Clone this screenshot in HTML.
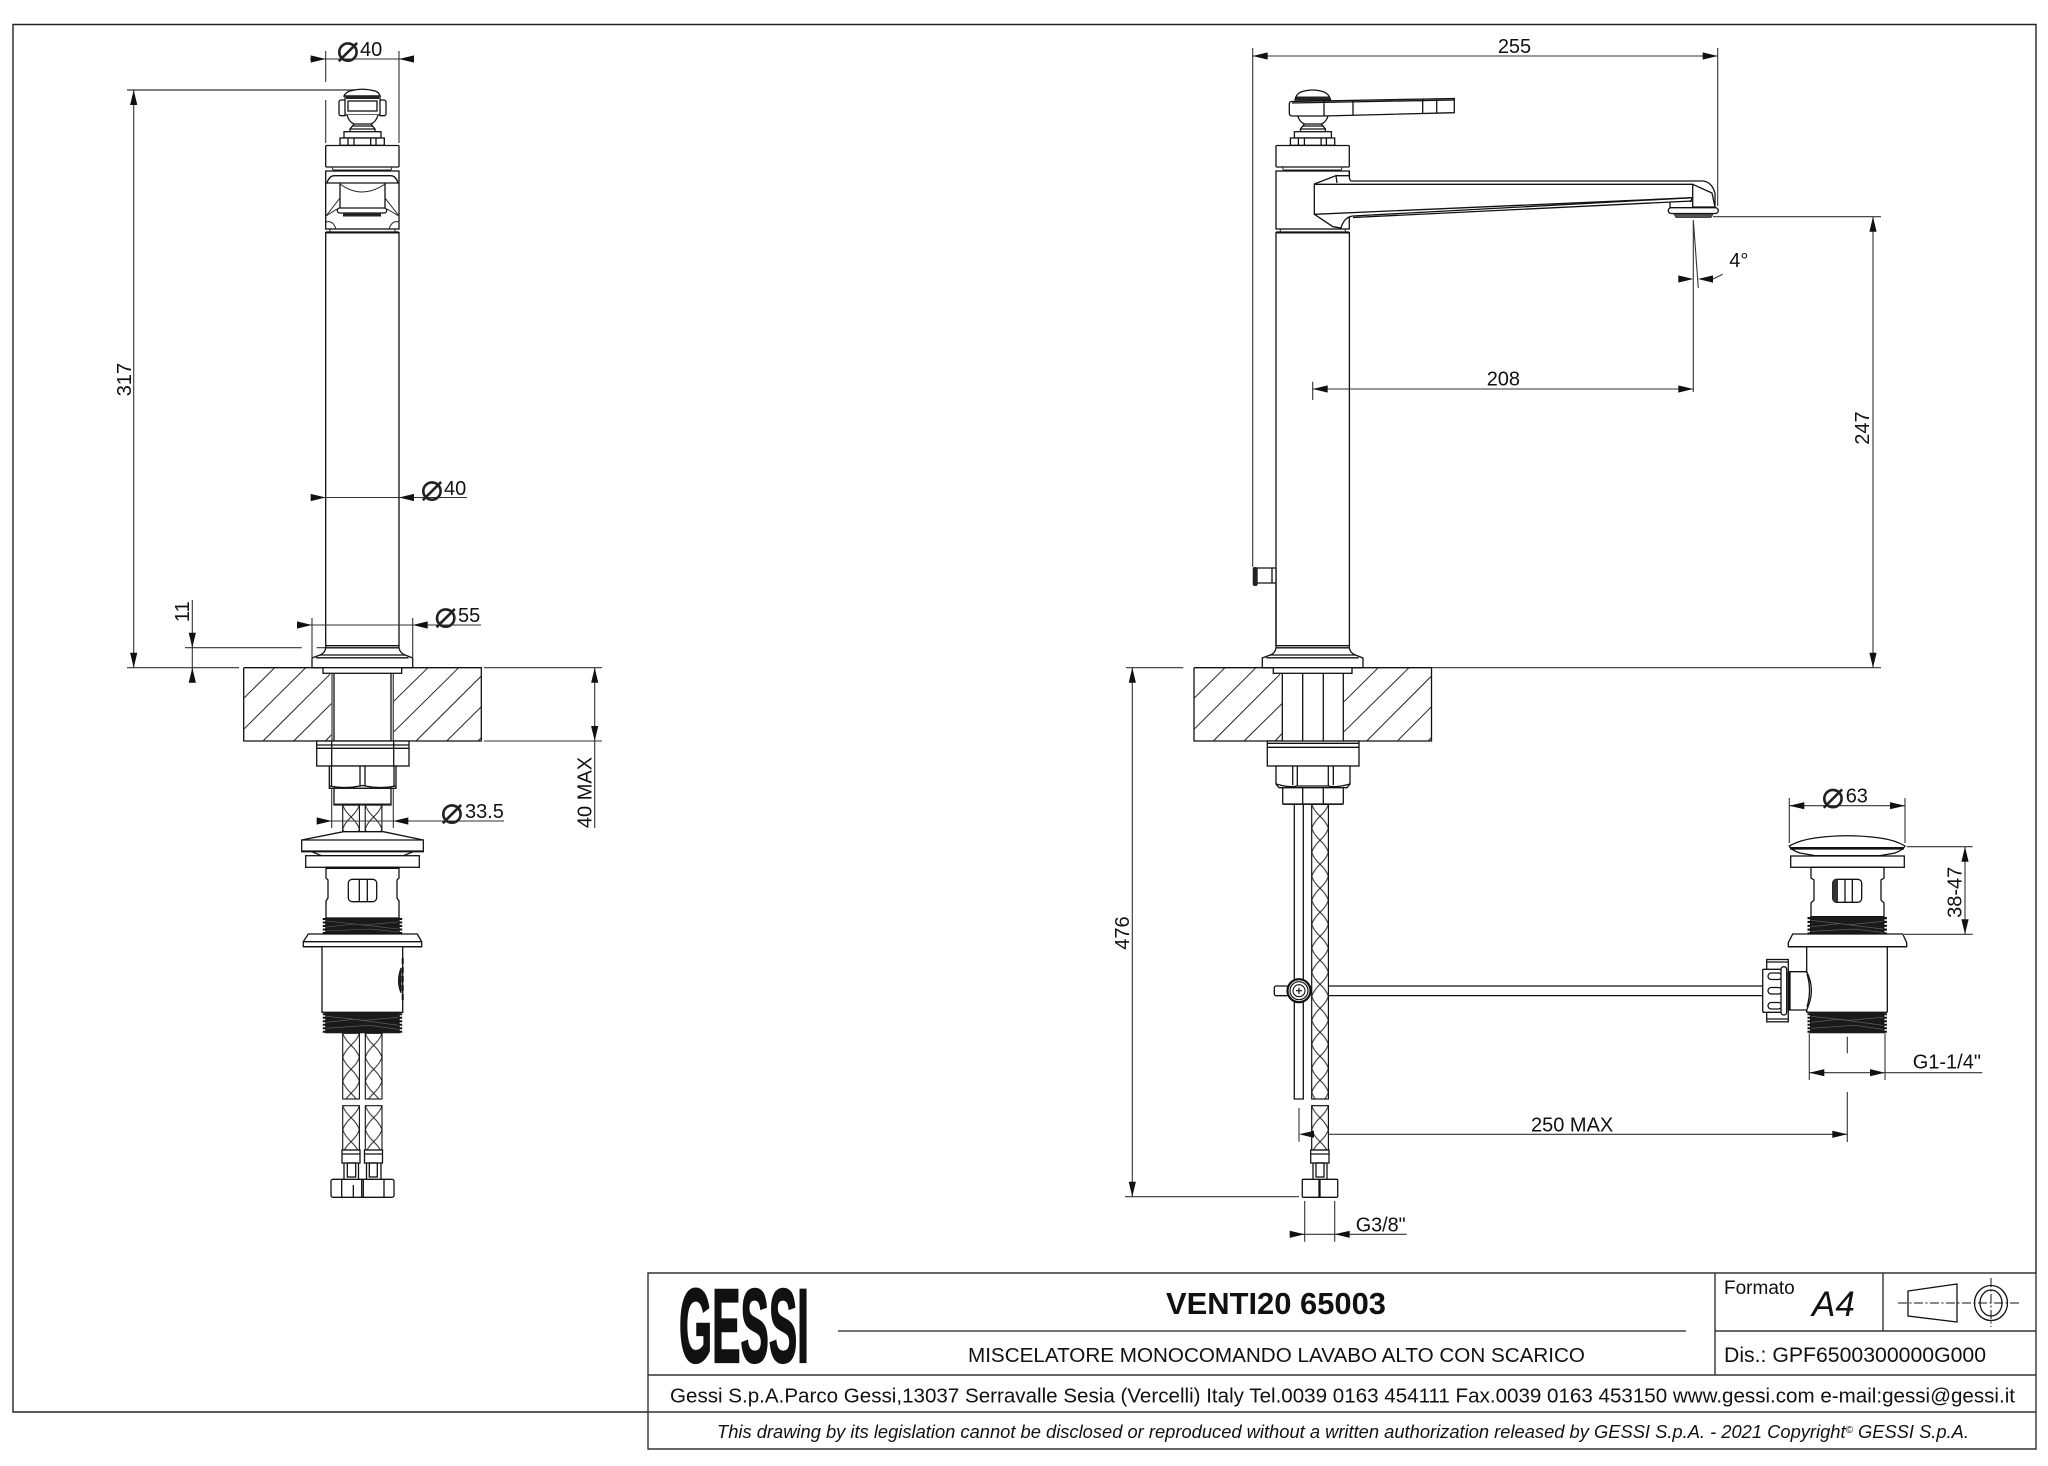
<!DOCTYPE html>
<html>
<head>
<meta charset="utf-8">
<style>
html,body{margin:0;padding:0;background:#fff;}
svg{display:block;}
text{font-family:"Liberation Sans",Arial,sans-serif;fill:#111;}
.t{font-size:20px;}
.phi{font-family:"DejaVu Sans",sans-serif;font-size:38px;fill:#222;text-anchor:middle;}
.o{fill:#fff;stroke:#111;stroke-width:1.3;}
.n{fill:none;stroke:#111;stroke-width:1.3;}
.f{fill:none;stroke:#222;stroke-width:1;}
.d{fill:none;stroke:#333;stroke-width:1.1;}
.k{fill:#1a1a1a;stroke:none;}
.tb{fill:none;stroke:#333;stroke-width:1.4;}
</style>
</head>
<body>
<svg xmlns="http://www.w3.org/2000/svg" width="2048" height="1466" viewBox="0 0 2048 1466">
<defs>
<path id="ar" d="M0,0 L15,-3.6 L15,3.6 Z" fill="#111"/>
<pattern id="b" patternUnits="userSpaceOnUse" width="16.7" height="24">
<path d="M0,0 Q2,6 8.35,12 Q14.7,18 16.7,24 M16.7,0 Q14.7,6 8.35,12 Q2,18 0,24" fill="none" stroke="#222" stroke-width="1"/>
</pattern>
<g id="knobbase">
<path class="o" d="M347,115 Q349,122 354,124 L371,124 Q376,122 378,115"/>
<path class="n" d="M354,124 L350,129 V131.7 M371,124 L375,129 V131.7 M352,126 H373 M350,129 H375"/>
<rect class="o" x="344" y="131.7" width="37" height="6.3"/>
<rect class="o" x="340" y="138" width="44.3" height="7.3"/>
<path class="n" d="M348,138 V145 M354,138 V145 M370.7,138 V145 M376,138 V145"/>
</g>
<g id="head">
<rect class="o" x="325.7" y="145.5" width="73.3" height="21.5" rx="1"/>
<path class="f" d="M332,167 L333,170 H391 L392,167"/>
<rect class="o" x="325.7" y="171" width="73.3" height="58"/>
<path class="f" d="M330,229 V232 H395 V229"/>
<path class="n" d="M325.7,232 H399 M325.7,232.8 H399"/>
</g>
<g id="base">
<path class="o" d="M325.7,645.7 H399 V648 Q400,653 405,655 L412.7,658 V667.7 H312 V658 L320,655 Q325,653 325.7,648 Z"/>
<path class="n" d="M325.7,647.8 H399 M316,657.8 H408.5 M320,655 H405"/>
<rect class="o" x="323" y="667.7" width="78.7" height="5.6"/>
</g>
<g id="th1">
<rect class="k" x="1" y="0" width="74.4" height="16"/>
<path d="M0,0 V16 M76.4,0 V16" stroke="#111" stroke-width="3" stroke-dasharray="2 1.5" fill="none"/>
<path d="M2,3 L40,7 L74,4 M2,9 L30,6 L74,11 M2,13 L45,11 L74,14" stroke="#666" stroke-width=".6" fill="none"/>
</g>
<g id="th2">
<rect class="k" x="1" y="0" width="74.4" height="21"/>
<path d="M0,1 V21 M76.4,1 V21" stroke="#111" stroke-width="3" stroke-dasharray="2 1.5" fill="none"/>
<path d="M2,4 L40,8 L74,5 M2,10 L30,7 L74,13 M2,16 L45,13 L74,17" stroke="#666" stroke-width=".6" fill="none"/>
</g>
</defs>

<rect width="2048" height="1466" fill="#fff"/>
<!-- frame -->
<path d="M648,1412 H13 V24.5 H2036 V1273" fill="none" stroke="#222" stroke-width="1.4"/>

<!-- =================== LEFT VIEW =================== -->
<!-- dim lines -->
<path class="d" d="M325.7,51 V82 M325.7,100 V143 M399,51 V143 M310,59 H414"/>
<use href="#ar" transform="translate(325.7,59) rotate(180)"/>
<use href="#ar" transform="translate(399,59)"/>
<text class="phi" x="348" y="61.5">⌀</text>
<text class="t" x="360" y="56">40</text>

<path d="M127,90 H357" stroke="#555" stroke-width="1.6" fill="none"/>
<path class="d" d="M133.7,90 V668 M127,667.7 H239"/>
<use href="#ar" transform="translate(133.7,90) rotate(90)"/>
<use href="#ar" transform="translate(133.7,667.7) rotate(-90)"/>
<text class="t" text-anchor="middle" transform="translate(131,379.5) rotate(-90)">317</text>

<!-- knob -->
<path class="o" d="M344,96 Q346,92 350,91 Q362,87.5 375,91 Q379,92 380,96 Z"/>
<rect class="o" x="339" y="100" width="7" height="15.7" rx="2"/>
<rect class="o" x="379" y="100" width="7" height="15.7" rx="2"/>
<rect class="o" x="345" y="96" width="35" height="19"/>
<rect x="346" y="96" width="33" height="3" fill="#222"/>
<rect class="n" x="348" y="101" width="29" height="10"/>
<use href="#knobbase"/>
<use href="#head"/>
<!-- head detail -->
<path class="n" d="M327,183 Q329,176 334,175.7 H391 Q396,176 398,183 Z"/>
<path class="n" d="M340,183 V208 M385,183 V208"/>
<path class="f" d="M340,184 Q362,200 385,184"/>
<rect class="o" x="337.3" y="208" width="49.4" height="5" rx="2.5"/>
<rect x="343" y="213" width="38" height="3.5" fill="#222"/>
<path class="f" d="M326,216 L340,198 M399,216 L385,198 M326,222 Q333,220 336,229 M399,222 Q392,220 389,229 M326,216 L337,209 M399,216 L387,209"/>
<!-- body -->
<path class="n" d="M325.7,232 V646 M399,232 V646"/>

<!-- Ø40 mid -->
<path class="d" d="M311,497.5 H467"/>
<use href="#ar" transform="translate(325.7,497.5) rotate(180)"/>
<use href="#ar" transform="translate(399,497.5)"/>
<text class="phi" x="432" y="500.5">⌀</text>
<text class="t" x="444" y="495">40</text>

<!-- Ø55 -->
<path class="d" d="M312,618 V657 M412.7,618 V657 M297,625 H481"/>
<use href="#ar" transform="translate(312,625) rotate(180)"/>
<use href="#ar" transform="translate(412.7,625)"/>
<text class="phi" x="445.7" y="627.5">⌀</text>
<text class="t" x="458" y="622">55</text>

<!-- 11 -->
<path class="d" d="M192.3,600 V682.7 M185,647.7 H301.7 M316.7,647.7 H325"/>
<use href="#ar" transform="translate(192.3,647.7) rotate(-90)"/>
<use href="#ar" transform="translate(192.3,667.7) rotate(90)"/>
<text class="t" text-anchor="middle" transform="translate(189,611.7) rotate(-90)">11</text>

<use href="#base"/>

<!-- counter left -->
<path class="n" d="M243.7,667.7 H323 M401.7,667.7 H481.3 V741 H243.7 V667.7" stroke-width="1.2"/>
<path class="f" d="M243.7,698.3 L274.7,667.7 M243.7,729.3 L305.7,667.7 M263,741 L330,674.3 M293.7,741 L332.3,702.7 M325.3,741 L332.3,734 M393.3,701.7 L428,667.7 M393.3,732.3 L458.7,667.7 M416,741 L481.3,676 M446.7,741 L481.3,706.7 M478,741 L481.3,737.7"/>
<path class="n" d="M334,674 V741 M391,674 V741"/>
<path d="M332,674 V741 M393.3,674 V741" stroke="#555" stroke-width="1.4" fill="none"/>

<!-- 40 MAX -->
<path class="d" d="M484,667.7 H602 M484,741 H602 M594.7,667.7 V828"/>
<use href="#ar" transform="translate(594.7,667.7) rotate(90)"/>
<use href="#ar" transform="translate(594.7,741) rotate(-90)"/>
<text class="t" text-anchor="middle" transform="translate(591.5,792.5) rotate(-90)">40 MAX</text>

<!-- nuts -->
<rect class="o" x="316.7" y="741" width="92.3" height="25"/>
<path class="n" d="M316.7,745 H409 M316.7,748.3 H409 M331.7,741 V766 M393.7,741 V766"/>
<path class="o" d="M329.3,766 H396 V788.3 H329.3 Z"/>
<path class="n" d="M331.5,766 V786 M394,766 V786 M360,766 V786 M365,766 V786 M329.3,786 Q345,789 360,786 Q363,785 365,786 Q380,789 396,786"/>
<rect class="o" x="334" y="788.3" width="57" height="16.7"/>
<path class="d" d="M331.7,788 V828 M393.3,788 V828"/>
<rect x="334" y="803.5" width="57" height="2" fill="#222"/>
<g transform="translate(342.7,805)"><rect width="16.7" height="26.7" fill="url(#b)" stroke="#111" stroke-width="1.1"/></g>
<g transform="translate(365.2,805)"><rect width="16.7" height="26.7" fill="url(#b)" stroke="#111" stroke-width="1.1"/></g>

<!-- Ø33.5 -->
<path class="d" d="M316.7,821 H504"/>
<use href="#ar" transform="translate(331.7,821) rotate(180)"/>
<use href="#ar" transform="translate(393.3,821)"/>
<text class="phi" x="452" y="823.5">⌀</text>
<text class="t" x="465" y="818">33.5</text>

<!-- pop-up front -->
<path class="o" d="M343.3,831.7 H383.3 L423.3,840 V851.7 H301.7 V840 Z"/>
<path class="n" d="M301.7,840 H423.3 M301.7,851 H423.3"/>
<path class="o" d="M311.7,851.7 L321.7,855.7 H403.3 L413.3,851.7 Z"/>
<rect class="o" x="305.7" y="855.7" width="113.6" height="11.6"/>
<path class="o" d="M326,867.3 H399 V878 L397,880 V898 L399,901 V918 H326 V901 L328,898 V880 L326,878 Z"/>
<path class="n" d="M326,868.3 H399"/>
<rect class="o" x="348.3" y="879.3" width="28.4" height="22.4" rx="4"/>
<path class="n" d="M359.3,879.3 V901.7 M367.3,879.3 V901.7"/>
<use href="#th1" transform="translate(324.3,918)"/>
<path class="o" d="M308.3,934 H417.3 L421.7,941.7 V946.7 H303.3 V941.7 Z"/>
<path class="n" d="M304,941.7 H421 M303.3,946.7 H421.7"/>
<rect class="o" x="322" y="946.7" width="80.7" height="65.6"/>
<path d="M402.7,958 V1003" stroke="#111" stroke-width="2" stroke-dasharray="6 3" fill="none"/>
<path d="M401,968 Q396,981 401,993 Z" fill="#222" stroke="#111"/>
<use href="#th2" transform="translate(324.3,1012.3)"/>
<!-- hoses -->
<g transform="translate(342.7,1033.3)"><rect width="16.7" height="65.7" fill="url(#b)" stroke="#111" stroke-width="1.1"/></g>
<g transform="translate(365.3,1033.3)"><rect width="16.7" height="65.7" fill="url(#b)" stroke="#111" stroke-width="1.1"/></g>
<g transform="translate(342.7,1105.7)"><rect width="16.7" height="44.3" fill="url(#b)" stroke="#111" stroke-width="1.1"/></g>
<g transform="translate(365.3,1105.7)"><rect width="16.7" height="44.3" fill="url(#b)" stroke="#111" stroke-width="1.1"/></g>
<rect class="o" x="342" y="1150" width="18" height="13"/>
<rect class="o" x="364.5" y="1150" width="18" height="13"/>
<path class="n" d="M342,1154 H360 M364.5,1154 H382.5 M344,1163 V1179.3 M358.5,1163 V1179.3 M366.5,1163 V1179.3 M381,1163 V1179.3"/>
<rect class="n" x="347.3" y="1163" width="8.4" height="14"/>
<rect class="n" x="369.3" y="1163" width="8" height="14"/>
<rect class="o" x="331" y="1179.3" width="63" height="18" rx="2"/>
<path class="n" d="M341.7,1179.3 V1197.3 M353.3,1185 V1197.3 M361.7,1179.3 V1197.3 M363.3,1179.3 V1197.3 M384,1179.3 V1197.3"/>

<!-- =================== RIGHT VIEW =================== -->
<path class="d" d="M1252.7,48 V567 M1717.7,48 V206 M1252.7,56 H1717.7"/>
<use href="#ar" transform="translate(1252.7,56)"/>
<use href="#ar" transform="translate(1717.7,56) rotate(180)"/>
<text class="t" x="1514.5" y="53" text-anchor="middle">255</text>

<!-- handle -->
<path class="o" d="M1295,100 Q1296,94 1301,92 Q1312.7,88 1324,92 Q1329,94 1330.7,100 Z"/>
<rect x="1296" y="96.5" width="34" height="3.5" fill="#222"/>
<use href="#knobbase" transform="translate(950.4,0)"/>
<path class="o" d="M1292,101.5 L1454.3,98.5 V112.7 L1324,116 H1292 Q1289.3,116 1289.3,113 V104 Q1289.3,101.5 1292,101.5 Z"/>
<path class="n" d="M1292,103 L1454,100 M1324,101 V116 M1353,100.5 V115.5 M1422.7,99 V113.5 M1436.7,98.7 V113"/>
<use href="#head" transform="translate(950.3,0)"/>
<!-- body -->
<path class="n" d="M1276,232 V646 M1349.4,232 V646"/>

<!-- spout -->
<path class="o" d="M1314.3,184 L1336,175.7 H1349.4 V178 Q1350,181 1351.7,181 H1703 Q1712,182 1715,193.3 V207 H1692.7 V197.7 L1353,216 Q1344,217 1341,228 L1333,226.7 L1314.3,214.3 Z"/>
<path class="n" d="M1314.3,184.3 H1692.7 V198 M1692.7,184.3 L1712,193 L1715,207 M1314.3,214.3 L1692.7,197.7 M1353,217.5 L1692,201 L1670,202 M1336,175.7 L1337,183 M1349.4,171 V175.7"/>
<path class="n" d="M1670,202 V207.7 M1690,202 L1692.7,198"/>
<rect class="o" x="1668.3" y="207.7" width="50" height="5.8" rx="2.9"/>
<path d="M1674,214 H1713 L1711,217.5 H1676 Z" fill="#555" stroke="#222" stroke-width=".8"/>

<!-- 247 -->
<path class="d" d="M1713,216.7 H1881 M1431,667.7 H1881 M1873,216.7 V667.7"/>
<use href="#ar" transform="translate(1873,216.7) rotate(90)"/>
<use href="#ar" transform="translate(1873,667.7) rotate(-90)"/>
<text class="t" text-anchor="middle" transform="translate(1869,428) rotate(-90)">247</text>

<!-- 4deg + 208 -->
<path class="d" d="M1693.3,220 V392 M1693.3,220 L1698.3,288 M1713,279 L1722.7,274.3"/>
<use href="#ar" transform="translate(1693.3,279) rotate(180)"/>
<use href="#ar" transform="translate(1698,279)"/>
<text class="t" x="1729.3" y="267">4°</text>
<path class="d" d="M1312.7,381.7 V400 M1312.7,389 H1693.3"/>
<use href="#ar" transform="translate(1312.7,389)"/>
<use href="#ar" transform="translate(1693.3,389) rotate(180)"/>
<text class="t" x="1486.7" y="385.7">208</text>

<!-- side valve -->
<rect class="o" x="1256" y="568" width="20" height="15" rx="1"/>
<rect x="1252.7" y="567" width="5" height="19" rx="2" fill="#222"/>
<path class="n" d="M1272,568 V583 M1276,583 V646"/>

<!-- base + counter right -->
<use href="#base" transform="translate(950.3,0)"/>
<path class="n" d="M1194,667.7 H1274 M1352.3,667.7 H1431.5 V741 H1194 V667.7" stroke-width="1.2"/>
<path class="f" d="M1194,698.3 L1225,667.7 M1194,729.3 L1256,667.7 M1213.3,741 L1280,674.3 M1244,741 L1282.3,703.3 M1275,741 L1282.3,733.3 M1344,701.7 L1378.3,667.7 M1344,731.7 L1409,667.7 M1366.7,741 L1431.5,676 M1397.3,741 L1431.5,706.7 M1428,741 L1431.5,737.5"/>
<rect fill="#fff" stroke="none" x="1283" y="674" width="60" height="67"/>
<path class="n" d="M1282.3,673 V741 M1343.3,673 V741 M1302.7,673 V741 M1323.3,673 V741"/>
<!-- 476 -->
<path class="d" d="M1126,667.7 H1183.3 M1125,1196.7 H1299 M1132.3,667.7 V1196.7"/>
<use href="#ar" transform="translate(1132.3,667.7) rotate(90)"/>
<use href="#ar" transform="translate(1132.3,1196.7) rotate(-90)"/>
<text class="t" text-anchor="middle" transform="translate(1129,933) rotate(-90)">476</text>

<!-- nuts -->
<rect class="o" x="1267.3" y="741" width="91.7" height="25"/>
<path class="n" d="M1267.3,743.3 H1359 M1267.3,747.3 H1359"/>
<path class="o" d="M1276,766 H1350 V784 L1347,787.7 H1279 L1276,784 Z"/>
<path class="n" d="M1292.7,766 V785 M1297.3,766 V786 M1328.3,766 V786 M1333.3,766 V785 M1276,784 Q1290,788 1297,786 H1328 Q1336,788 1350,784"/>
<rect class="o" x="1282.7" y="787.7" width="60.6" height="16.6" rx="1"/>
<path class="n" d="M1302.7,787.7 V804.3 M1323.3,787.7 V804.3"/>
<rect x="1283" y="803.3" width="60" height="1.6" fill="#222"/>

<!-- tube + hose -->
<path class="n" d="M1294.3,804 V1099 H1303.3 V804"/>
<g transform="translate(1311.7,804.3)"><rect width="16.7" height="294.7" fill="url(#b)" stroke="#111" stroke-width="1.2"/></g>
<g transform="translate(1311.7,1105.7)"><rect width="16.7" height="44.3" fill="url(#b)" stroke="#111" stroke-width="1.2"/></g>
<rect class="o" x="1310.7" y="1150" width="18.3" height="13"/>
<path class="n" d="M1310.7,1154 H1329 M1313,1163 V1179.3 M1327,1163 V1179.3"/>
<rect class="n" x="1316" y="1163" width="8" height="14"/>
<rect class="o" x="1302.3" y="1179.3" width="35.4" height="18" rx="1"/>
<path class="n" d="M1320,1179.3 V1197.3 M1319,1179.3 V1197.3"/>

<!-- drain rod -->
<path class="n" d="M1328.3,986 H1763.3 M1328.3,995.6 H1763.3"/>
<rect class="o" x="1274.3" y="986" width="14" height="9.7" rx="2"/>
<circle cx="1299" cy="990.7" r="11.5" fill="#fff" stroke="#111" stroke-width="2.2"/>
<circle cx="1299" cy="990.7" r="9" fill="none" stroke="#111" stroke-width="1.2"/>
<circle cx="1299" cy="990.7" r="6" fill="none" stroke="#111" stroke-width="1.1"/>
<path d="M1296,990.7 H1302 M1299,987.7 V993.7" stroke="#111" stroke-width="1.2"/>

<!-- 250 MAX -->
<path class="d" d="M1299,1108 V1141.7 M1847.3,1092 V1142 M1328.4,1134.3 H1847.3"/>
<use href="#ar" transform="translate(1299,1134.3)"/>
<use href="#ar" transform="translate(1847.3,1134.3) rotate(180)"/>
<text class="t" x="1531" y="1131.7">250 MAX</text>

<!-- G3/8 -->
<path class="d" d="M1304.7,1201 V1241.7 M1334.7,1201 V1241.7 M1290,1234.3 H1406.7"/>
<use href="#ar" transform="translate(1304.7,1234.3) rotate(180)"/>
<use href="#ar" transform="translate(1334.7,1234.3)"/>
<text class="t" x="1355.7" y="1231.7" textLength="50" lengthAdjust="spacingAndGlyphs" style="font-size:20px">G3/8"</text>

<!-- pop-up right -->
<path class="d" d="M1789.3,798 V843 M1905,798 V843 M1789.3,805.7 H1905"/>
<use href="#ar" transform="translate(1789.3,805.7)"/>
<use href="#ar" transform="translate(1905,805.7) rotate(180)"/>
<text class="phi" x="1833" y="807.8">⌀</text>
<text class="t" x="1845.7" y="802.3">63</text>

<path class="o" d="M1789.3,846 Q1800,840 1815,838 Q1847,833.5 1880,838 Q1895,840 1905,846 Q1903,850 1895,853 L1880,855.7 H1815 L1800,853 Q1791,850 1789.3,846 Z"/>
<path class="n" d="M1790,847.7 H1904 M1790,849 H1904"/>
<rect class="o" x="1790.7" y="856" width="113.6" height="11.3"/>
<path class="o" d="M1811,867.3 H1884 V878 L1881,880 V900 L1884,903 V916.7 H1811 V903 L1814,900 V880 L1811,878 Z"/>
<rect class="o" x="1832.7" y="879.3" width="29" height="23" rx="4"/>
<path d="M1836,879.5 Q1832.7,880 1832.7,884 V898 Q1832.7,902 1836,902 H1838 V879.5 Z" fill="#333"/>
<path class="n" d="M1845,879.3 V902.3 M1852.3,879.3 V902.3"/>
<g transform="translate(1809,917) scale(1,1.1)"><use href="#th1"/></g>
<path class="o" d="M1792.7,934 H1902.7 L1906.7,942.7 V946.7 H1788.3 V942.7 Z"/>
<path class="n" d="M1806.7,946.7 V1012.3 M1887.3,946.7 V1012.3 M1788.3,946.7 H1906.7"/>
<path class="n" d="M1806.7,1012.3 H1887.3"/>
<use href="#th2" transform="translate(1809,1012.3)"/>

<!-- 38-47 -->
<path class="d" d="M1906.7,846.7 H1972.7 M1904,934.3 H1972.7 M1965,846.7 V934.3"/>
<use href="#ar" transform="translate(1965,846.7) rotate(90)"/>
<use href="#ar" transform="translate(1965,934.3) rotate(-90)"/>
<text class="t" text-anchor="middle" transform="translate(1961.7,892.3) rotate(-90)">38-47</text>

<!-- G1-1/4 -->
<path class="d" d="M1809.3,1033.3 V1080 M1885,1033.3 V1080 M1809.3,1072.7 H1982.3 M1847.3,1036.7 V1053.3"/>
<use href="#ar" transform="translate(1809.3,1072.7)"/>
<use href="#ar" transform="translate(1885,1072.7) rotate(180)"/>
<text class="t" x="1912.7" y="1068.3">G1-1/4"</text>

<!-- side connector -->
<path class="o" d="M1789.3,971.7 H1806.7 Q1816,990 1806.7,1010 H1789.3 Z"/>
<path class="n" d="M1806.7,971.7 V973 M1806.7,1010 V1012.3 M1807,974 Q1812,990 1807,1007"/>
<rect class="o" x="1766.7" y="959.5" width="21.6" height="62.3"/>
<path class="n" d="M1766.7,962 H1788.3 M1766.7,1019 H1788.3"/>
<rect class="o" x="1762.7" y="969.3" width="19" height="43" rx="1"/>
<rect class="o" x="1768" y="973" width="13.7" height="6.5" rx="3.2"/>
<rect class="o" x="1768" y="987.5" width="13.7" height="6.5" rx="3.2"/>
<rect class="o" x="1768" y="1002.5" width="13.7" height="6.5" rx="3.2"/>
<rect class="o" x="1781" y="966.7" width="5.7" height="48.3" rx="2.8"/>
<path class="n" d="M1788.3,972 V1010 M1790,972 V1010"/>

<!-- =================== TITLE BLOCK =================== -->
<path class="tb" d="M648,1273 H2036 V1449 H648 Z M648,1375 H2036 M648,1412 H2036 M1715,1273 V1375 M1715,1331 H2036 M1883,1273 V1331"/>
<path d="M838,1331 H1686" stroke="#444" stroke-width="1.5" fill="none"/>
<text x="679" y="1362" textLength="130" lengthAdjust="spacingAndGlyphs" style="font-size:105px;font-weight:bold;fill:#111;stroke:#111;stroke-width:2.2;">GESSI</text>
<text x="1166" y="1314" textLength="220" lengthAdjust="spacingAndGlyphs" style="font-size:31px;font-weight:bold;">VENTI20 65003</text>
<text x="968" y="1362" textLength="617" lengthAdjust="spacingAndGlyphs" style="font-size:20px;">MISCELATORE MONOCOMANDO LAVABO ALTO CON SCARICO</text>
<text x="670" y="1402.5" textLength="1345" lengthAdjust="spacingAndGlyphs" style="font-size:20px;">Gessi S.p.A.Parco Gessi,13037 Serravalle Sesia (Vercelli) Italy Tel.0039 0163 454111 Fax.0039 0163 453150 www.gessi.com e-mail:gessi@gessi.it</text>
<text x="717" y="1438" textLength="1252" lengthAdjust="spacingAndGlyphs" style="font-size:18.5px;font-style:italic;">This drawing by its legislation cannot be disclosed or reproduced without a written authorization released by GESSI S.p.A. - 2021 Copyright<tspan dy="-5" style="font-size:10px;">©</tspan><tspan dy="5"> GESSI S.p.A.</tspan></text>
<text x="1724" y="1294" style="font-size:19px;">Formato</text>
<text x="1812" y="1316" style="font-size:35px;font-style:italic;">A4</text>
<text x="1724" y="1362" textLength="262" lengthAdjust="spacingAndGlyphs" style="font-size:21px;">Dis.: GPF6500300000G000</text>
<!-- projection symbol -->
<path class="n" d="M1908,1291 L1957,1284 V1322 L1908,1316 Z"/>
<path d="M1898,1303 H2021" stroke="#111" stroke-width="1" stroke-dasharray="9 2.5 2 2.5" fill="none"/>
<path d="M1991,1278 V1327" stroke="#111" stroke-width="1" stroke-dasharray="9 2.5 2 2.5" fill="none"/>
<ellipse class="n" cx="1991" cy="1303" rx="16.5" ry="17.5"/>
<ellipse class="n" cx="1991" cy="1303" rx="11" ry="13"/>
</svg>
</body>
</html>
